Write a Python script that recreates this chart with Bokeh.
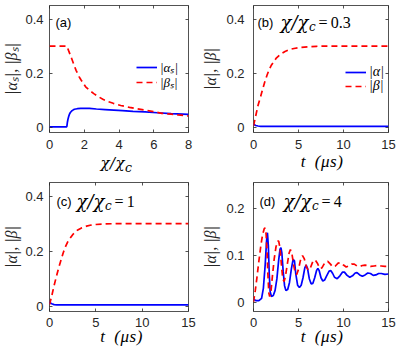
from bokeh.plotting import figure
from bokeh.models import (Range1d, FixedTicker, LinearAxis, Label, Legend,
                          LegendItem, ColumnDataSource, Div)
from bokeh.layouts import column, row
from bokeh.embed import file_html
from bokeh.resources import INLINE
from bokeh.core.properties import value

# ---------------- data ----------------
# (a) steady state vs chi/chi_c
a_x_alpha = [0, 0.99, 1.0, 1.03, 1.06, 1.1, 1.15, 1.2, 1.3, 1.43, 1.6, 1.8, 2.0,
             2.3, 2.7, 3.2, 3.7, 4.2, 4.8, 5.5, 6.2, 7.0, 8.0]
a_alpha = [0.001, 0.001, 0.003, 0.018, 0.028, 0.038, 0.048, 0.054, 0.061, 0.066,
           0.068, 0.069, 0.069, 0.069, 0.067, 0.065, 0.063, 0.061, 0.058, 0.056,
           0.053, 0.050, 0.047]
a_x_beta = [0, 1.0, 1.1, 1.25, 1.4, 1.53, 1.7, 1.8, 2.08, 2.3, 2.55, 2.8, 3.1,
            3.4, 3.67, 4.1, 4.6, 5.0, 5.5, 6.0, 6.46, 7.0, 7.4, 8.0]
a_beta = [0.3, 0.3, 0.283, 0.258, 0.232, 0.21, 0.187, 0.176, 0.149, 0.136, 0.124,
          0.113, 0.102, 0.094, 0.088, 0.080, 0.073, 0.068, 0.063, 0.057, 0.051,
          0.048, 0.045, 0.041]

# (b) chi/chi_c = 0.3, time evolution
b_t = [0, 0.1, 0.25, 0.5, 0.8, 1.0, 1.25, 1.5, 1.75, 2.0, 2.5, 3.0, 3.5, 4.0,
       4.5, 5.0, 6.0, 7.0, 8.0, 10.0, 12.0, 15.0]
b_alpha = [0.012, 0.009, 0.006, 0.004, 0.003, 0.003, 0.003, 0.003, 0.003, 0.003,
           0.003, 0.003, 0.003, 0.003, 0.003, 0.003, 0.003, 0.003, 0.003, 0.003,
           0.003, 0.003]
b_beta = [0.005, 0.02, 0.042, 0.08, 0.114, 0.138, 0.167, 0.192, 0.213, 0.23, 0.254,
          0.27, 0.28, 0.287, 0.291, 0.294, 0.297, 0.299, 0.3, 0.3, 0.3, 0.3]

# (c) chi/chi_c = 1
c_t = [0, 0.1, 0.25, 0.5, 0.8, 1.0, 1.25, 1.5, 1.75, 2.0, 2.5, 3.0, 3.5, 4.0,
       4.5, 5.0, 6.0, 7.0, 8.0, 10.0, 12.0, 15.0]
c_alpha = [0.015, 0.011, 0.008, 0.005, 0.004, 0.004, 0.004, 0.004, 0.004, 0.004,
           0.004, 0.004, 0.004, 0.004, 0.004, 0.004, 0.004, 0.004, 0.004, 0.004,
           0.004, 0.004]
c_beta = [0.005, 0.018, 0.038, 0.075, 0.115, 0.14, 0.168, 0.196, 0.218, 0.236, 0.26,
          0.276, 0.285, 0.291, 0.295, 0.297, 0.299, 0.3, 0.3, 0.3, 0.3, 0.3]

# (d) chi/chi_c = 4
d_t_alpha = [0, 0.3, 0.6, 0.9, 1.1, 1.3, 1.45, 1.55, 1.65, 1.75, 1.85, 2.0, 2.2,
             2.4, 2.6, 2.8, 2.95, 3.05, 3.15, 3.3, 3.45, 3.6, 3.8, 4.0, 4.2, 4.4,
             4.55, 4.7, 4.9, 5.1, 5.3, 5.5, 5.7, 5.85, 6.0, 6.2, 6.4, 6.6, 6.8,
             7.0, 7.15, 7.3, 7.5, 7.7, 7.9, 8.1, 8.4, 8.6, 8.8, 9.0, 9.3, 9.6,
             9.9, 10.1, 10.4, 10.7, 11.0, 11.3, 11.5, 11.8, 12.1, 12.4, 12.7,
             13.0, 13.3, 13.6, 13.9, 14.2, 14.6, 15.0]
d_alpha = [0.006, 0.003, 0.003, 0.008, 0.03, 0.08, 0.13, 0.148, 0.12, 0.06, 0.022,
           0.012, 0.014, 0.025, 0.05, 0.09, 0.113, 0.116, 0.105, 0.065, 0.035,
           0.025, 0.027, 0.042, 0.07, 0.091, 0.088, 0.06, 0.036, 0.031, 0.036,
           0.052, 0.073, 0.079, 0.072, 0.05, 0.039, 0.040, 0.052, 0.067, 0.072,
           0.067, 0.052, 0.045, 0.047, 0.055, 0.066, 0.067, 0.061, 0.053, 0.050,
           0.056, 0.064, 0.064, 0.057, 0.053, 0.056, 0.062, 0.063, 0.058, 0.055,
           0.058, 0.062, 0.061, 0.057, 0.058, 0.061, 0.061, 0.059, 0.060]
d_t_beta = [0, 0.2, 0.4, 0.6, 0.8, 1.0, 1.2, 1.3, 1.4, 1.5, 1.6, 1.7, 1.8, 1.95,
            2.1, 2.3, 2.5, 2.7, 2.8, 2.95, 3.1, 3.25, 3.4, 3.55, 3.75, 3.95, 4.1,
            4.25, 4.45, 4.65, 4.8, 5.0, 5.2, 5.45, 5.65, 5.9, 6.1, 6.3, 6.6, 6.85,
            7.1, 7.35, 7.6, 7.9, 8.25, 8.55, 8.8, 9.1, 9.4, 9.7, 10.0, 10.3, 10.6,
            10.9, 11.2, 11.5, 11.8, 12.1, 12.4, 12.7, 13.0, 13.4, 13.8, 14.2,
            14.6, 15.0]
d_beta = [0.0, 0.025, 0.055, 0.088, 0.118, 0.143, 0.157, 0.158, 0.145, 0.11, 0.06,
          0.02, 0.012, 0.025, 0.055, 0.092, 0.118, 0.13, 0.13, 0.115, 0.08, 0.05,
          0.044, 0.055, 0.08, 0.104, 0.112, 0.106, 0.08, 0.061, 0.059, 0.07, 0.088,
          0.099, 0.092, 0.074, 0.068, 0.072, 0.087, 0.09, 0.083, 0.072, 0.073,
          0.083, 0.087, 0.081, 0.075, 0.077, 0.083, 0.084, 0.079, 0.075, 0.077,
          0.081, 0.081, 0.077, 0.076, 0.078, 0.079, 0.078, 0.076, 0.077, 0.078,
          0.077, 0.076, 0.076]

# ticks
chi_ticks = [0, 2, 4, 6, 8]
chi_tick_labels = ["0", "2", "4", "6", "8"]
t_ticks = [0, 5, 10, 15]
t_tick_labels = ["0", "5", "10", "15"]
amp_ticks = [0, 0.2, 0.4]
amp_tick_labels = ["0", "0.2", "0.4"]
d_amp_ticks = [0, 0.1, 0.2]
d_amp_tick_labels = ["0", "0.1", "0.2"]

# text
ylabel_a = "|αₛ|, |βₛ|"
ylabel_t = "|α|, |β|"
xlabel_a_html = "χ/χ<sub>c</sub>"
xlabel_t_html = "<i>t</i>&ensp;(<i>μs</i>)"
legend_a = ["|αₛ|", "|βₛ|"]
legend_b = ["|α|", "|β|"]
panel_tags = ["(a)", "(b)", "(c)", "(d)"]
ratio_values = ["0.3", "1", "4"]

# ---------------- styling ----------------
SANS = "Liberation Sans"
SERIF = "Liberation Serif"
MATHF = "DejaVu Serif"
INK = "#262626"
BLUE = "#0000FF"
RED = "#FF0000"
LW = 1.7
DASH = "6 4"


def make_panel(width, height, borders, xr, yr, xticks, xtl, yticks, ytl,
               ylabel, xstand, ystand, lstand):
    l, r, t, b = borders
    p = figure(width=width, height=height, output_backend="svg",
               toolbar_location=None, x_range=Range1d(*xr), y_range=Range1d(*yr),
               x_axis_type=None, y_axis_type=None,
               min_border_left=l, min_border_right=r,
               min_border_top=t, min_border_bottom=b)
    p.outline_line_color = INK
    p.outline_line_width = 0.8
    p.border_fill_color = "white"
    p.background_fill_color = "white"
    for side, ticks, labels, lab in [("below", xticks, xtl, None),
                                     ("left", yticks, ytl, ylabel),
                                     ("above", xticks, None, None),
                                     ("right", yticks, None, None)]:
        ax = LinearAxis(ticker=FixedTicker(ticks=ticks, minor_ticks=[]))
        ax.axis_line_color = None
        ax.major_tick_in = 3
        ax.major_tick_out = 0
        ax.major_tick_line_color = INK
        ax.major_tick_line_width = 0.8
        ax.minor_tick_line_color = None
        if labels is None:
            ax.major_label_text_font_size = "0px"
            ax.major_label_standoff = 0
            ax.major_label_text_alpha = 0
        else:
            ax.major_label_overrides = {tk: s for tk, s in zip(ticks, labels)}
            ax.major_label_text_font = SANS
            ax.major_label_text_font_size = "13px"
            ax.major_label_text_color = INK
            ax.major_label_standoff = xstand if side == "below" else ystand
        if lab:
            ax.axis_label = lab
            ax.axis_label_text_font = SERIF
            ax.axis_label_text_font_style = "italic"
            ax.axis_label_text_font_size = "16px"
            ax.axis_label_text_color = INK
            ax.axis_label_standoff = lstand
        p.add_layout(ax, side)
    return p


def xlabel_div(width, height, frame_left, frame_width, html, shift, size,
               font=SERIF):
    inner = (f'<div style="position:relative;top:{shift}px;'
             f'margin-left:{frame_left}px;width:{frame_width}px;'
             f'text-align:center;white-space:nowrap;letter-spacing:0.5px;'
             f"font-family:'{font}';font-style:italic;font-size:{size}px;"
             f'line-height:14px;color:#000">{html}</div>')
    return Div(text=inner, width=width, height=height, margin=(0, 0, 0, 0),
               styles={"overflow": "visible"})


def add_line(p, x, y, color, dash):
    src = ColumnDataSource(data=dict(x=x, y=y))
    return p.line("x", "y", source=src, line_color=color, line_width=LW,
                  line_dash=dash)


def add_text(p, x, y, xo, yo, text, size, font, style="normal", align="left"):
    p.add_layout(Label(x=x, y=y, x_offset=xo, y_offset=yo, text=text,
                       text_font=font, text_font_size=size,
                       text_font_style=style, text_color="black",
                       text_align=align, text_baseline="alphabetic"))


def add_ratio(p, x, y, anchor, yo, val, size=18):
    # "chi/chi_c = val" with a real subscript c
    add_text(p, x, y, anchor, yo, "χ/χ", f"{size}px", MATHF, "italic", "right")
    add_text(p, x, y, anchor + 0.5, yo - 4, "c", f"{int(size * 0.68)}px", MATHF,
             "italic", "left")
    add_text(p, x, y, anchor + 10, yo, "=\u2009" + val, "16px", SERIF,
             "normal", "left")


def add_legend_entry(p, renderer, label, loc, size="14px"):
    # one legend entry per box, so the row pitch can match the reference
    leg = Legend(items=[LegendItem(label=value(label), renderers=[renderer])],
                 location=loc, padding=0, margin=0, spacing=0,
                 glyph_width=21, glyph_height=12, label_height=12,
                 label_standoff=3, label_text_font=SERIF,
                 label_text_font_style="italic", label_text_font_size=size,
                 label_text_color="black", background_fill_alpha=0,
                 border_line_alpha=0)
    p.add_layout(leg)


# ---------------- panels ----------------
AMP_R = (-0.02, 0.45)
D_R = (-0.02, 0.255)
W1, W2 = 199, 199
BL1, BR1 = 45, 11
BL2, BR2 = 49, 10
H1, H1D = 161, 19
H2, H2D = 160, 9

pa = make_panel(W1, H1, (BL1, BR1, 5, 29), (0, 8), AMP_R, chi_ticks,
                chi_tick_labels, amp_ticks, amp_tick_labels, ylabel_a, 7, 6, 2)
ra = add_line(pa, a_x_alpha, a_alpha, BLUE, "solid")
rb = add_line(pa, a_x_beta, a_beta, RED, DASH)
add_legend_entry(pa, ra, legend_a[0], (87, 56), "13px")
add_legend_entry(pa, rb, legend_a[1], (87, 41), "13px")
add_text(pa, 0, AMP_R[1], 6, -17, panel_tags[0], "13px", SANS)
da = xlabel_div(W1, H1D, BL1, W1 - BL1 - BR1, xlabel_a_html, -5, 15, MATHF)

pb = make_panel(W2, H1, (BL2, BR2, 5, 29), (0, 15), AMP_R, t_ticks,
                t_tick_labels, amp_ticks, amp_tick_labels, ylabel_t, 7, 9, 4)
ra = add_line(pb, b_t, b_alpha, BLUE, "solid")
rb = add_line(pb, b_t, b_beta, RED, DASH)
add_legend_entry(pb, ra, legend_b[0], (92, 52))
add_legend_entry(pb, rb, legend_b[1], (92, 38))
add_text(pb, 0, AMP_R[1], 4, -17, panel_tags[1], "13px", SANS)
add_ratio(pb, 0, AMP_R[1], 55, -17, ratio_values[0])
db = xlabel_div(W2, H1D, BL2 + 4, W2 - BL2 - BR2, xlabel_t_html, -6, 17)

pc = make_panel(W1, H2, (BL1, BR1, 2, 29), (0, 15), AMP_R, t_ticks,
                t_tick_labels, amp_ticks, amp_tick_labels, ylabel_t, 6, 6, 2)
add_line(pc, c_t, c_alpha, BLUE, "solid")
add_line(pc, c_t, c_beta, RED, DASH)
add_text(pc, 0, AMP_R[1], 7, -19, panel_tags[2], "13px", SANS)
add_ratio(pc, 0, AMP_R[1], 55, -19, ratio_values[1])
dc = xlabel_div(W1, H2D, BL1 + 5, W1 - BL1 - BR1, xlabel_t_html, -10, 17)

pd = make_panel(W2, H2, (BL2, BR2, 2, 29), (0, 15), D_R, t_ticks,
                t_tick_labels, d_amp_ticks, d_amp_tick_labels, ylabel_t, 6, 9, 4)
add_line(pd, d_t_alpha, d_alpha, BLUE, "solid")
add_line(pd, d_t_beta, d_beta, RED, DASH)
add_text(pd, 0, D_R[1], 6, -19, panel_tags[3], "13px", SANS)
add_ratio(pd, 0, D_R[1], 58, -19, ratio_values[2])
dd = xlabel_div(W2, H2D, BL2 + 4, W2 - BL2 - BR2, xlabel_t_html, -10, 17)

layout = column(row(column(pa, da), column(pb, db)),
                row(column(pc, dc), column(pd, dd)))
open("out.html", "w").write(file_html(layout, INLINE))
